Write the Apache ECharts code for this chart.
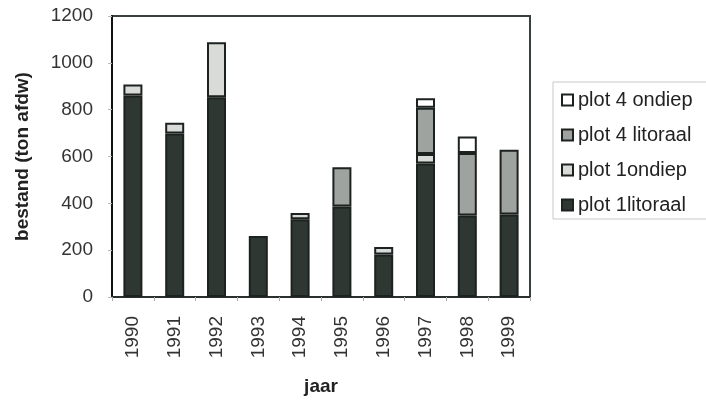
<!DOCTYPE html>
<html>
<head>
<meta charset="utf-8">
<script src="https://cdn.jsdelivr.net/npm/echarts@6/dist/echarts.min.js"></script>
<style>html,body{margin:0;padding:0;background:#fff}#c{width:706px;height:401px}</style>
</head>
<body>
<div id="c"></div>
<script>
var years = ['1990','1991','1992','1993','1994','1995','1996','1997','1998','1999'];
var plot1Litoraal = [860, 698, 853, 260, 332, 386, 182, 570, 348, 352];
var plot1Ondiep   = [48, 46, 235, 0, 27, 0, 31, 41, 0, 0];
var plot4Litoraal = [0, 0, 0, 0, 0, 168, 0, 197, 267, 277];
var plot4Ondiep   = [0, 0, 0, 0, 0, 0, 0, 41, 70, 0];
var yTicks = [0, 200, 400, 600, 800, 1000, 1200];

var font = 'Liberation Sans, Arial, sans-serif';
function nz(a){ return a.map(function(v){ return v ? v : null; }); }
function ser(name, data, color){
  return {
    name: name, type: 'bar', stack: 'total', data: nz(data), barWidth: 19,
    itemStyle: { color: color, borderColor: '#1c221f', borderWidth: 2 },
    emphasis: { disabled: true }
  };
}
var chart = echarts.init(document.getElementById('c'));
chart.setOption({
  animation: false,
  backgroundColor: '#fff',
  grid: { left: 112, right: 176, top: 16, bottom: 100, show: true, borderColor: '#3a403c', borderWidth: 2 },
  legend: {
    orient: 'vertical', left: 556, top: 85, itemGap: 15, itemWidth: 11, itemHeight: 11,
    icon: 'rect', selectedMode: false,
    textStyle: { fontFamily: font, fontSize: 20, color: '#222' },
    data: ['plot 4 ondiep', 'plot 4 litoraal', 'plot 1ondiep', 'plot 1litoraal']
  },
  graphic: [{
    type: 'rect', shape: { x: 553, y: 82, width: 220, height: 137 },
    style: { fill: 'none', stroke: '#c8c8c8', lineWidth: 1 }, z: -1
  }],
  xAxis: {
    type: 'category', data: years,
    axisLine: { lineStyle: { color: '#2a302c', width: 2 } },
    axisTick: { show: true, length: 4, lineStyle: { color: '#aaa' } },
    axisLabel: { rotate: 90, margin: 19, fontFamily: font, fontSize: 19, color: '#333' },
    name: 'jaar', nameLocation: 'middle', nameGap: 80,
    nameTextStyle: { fontFamily: font, fontSize: 19, fontWeight: 'bold', color: '#222' }
  },
  yAxis: {
    type: 'value', min: yTicks[0], max: yTicks[yTicks.length - 1], interval: 200,
    axisLine: { show: true, lineStyle: { color: '#111', width: 2 } },
    axisTick: { show: true, length: 4, lineStyle: { color: '#bbb' } },
    splitLine: { show: false },
    axisLabel: { margin: 19, fontFamily: font, fontSize: 19, color: '#333', formatter: function(v){ return String(v); } },
    name: 'bestand (ton afdw)', nameLocation: 'middle', nameGap: 80,
    nameTextStyle: { fontFamily: font, fontSize: 19, fontWeight: 'bold', color: '#222' }
  },
  series: [
    ser('plot 1litoraal', plot1Litoraal, '#2f3733'),
    ser('plot 1ondiep', plot1Ondiep, '#d9dbd9'),
    ser('plot 4 litoraal', plot4Litoraal, '#9fa39f'),
    ser('plot 4 ondiep', plot4Ondiep, '#ffffff')
  ]
});
</script>
</body>
</html>
